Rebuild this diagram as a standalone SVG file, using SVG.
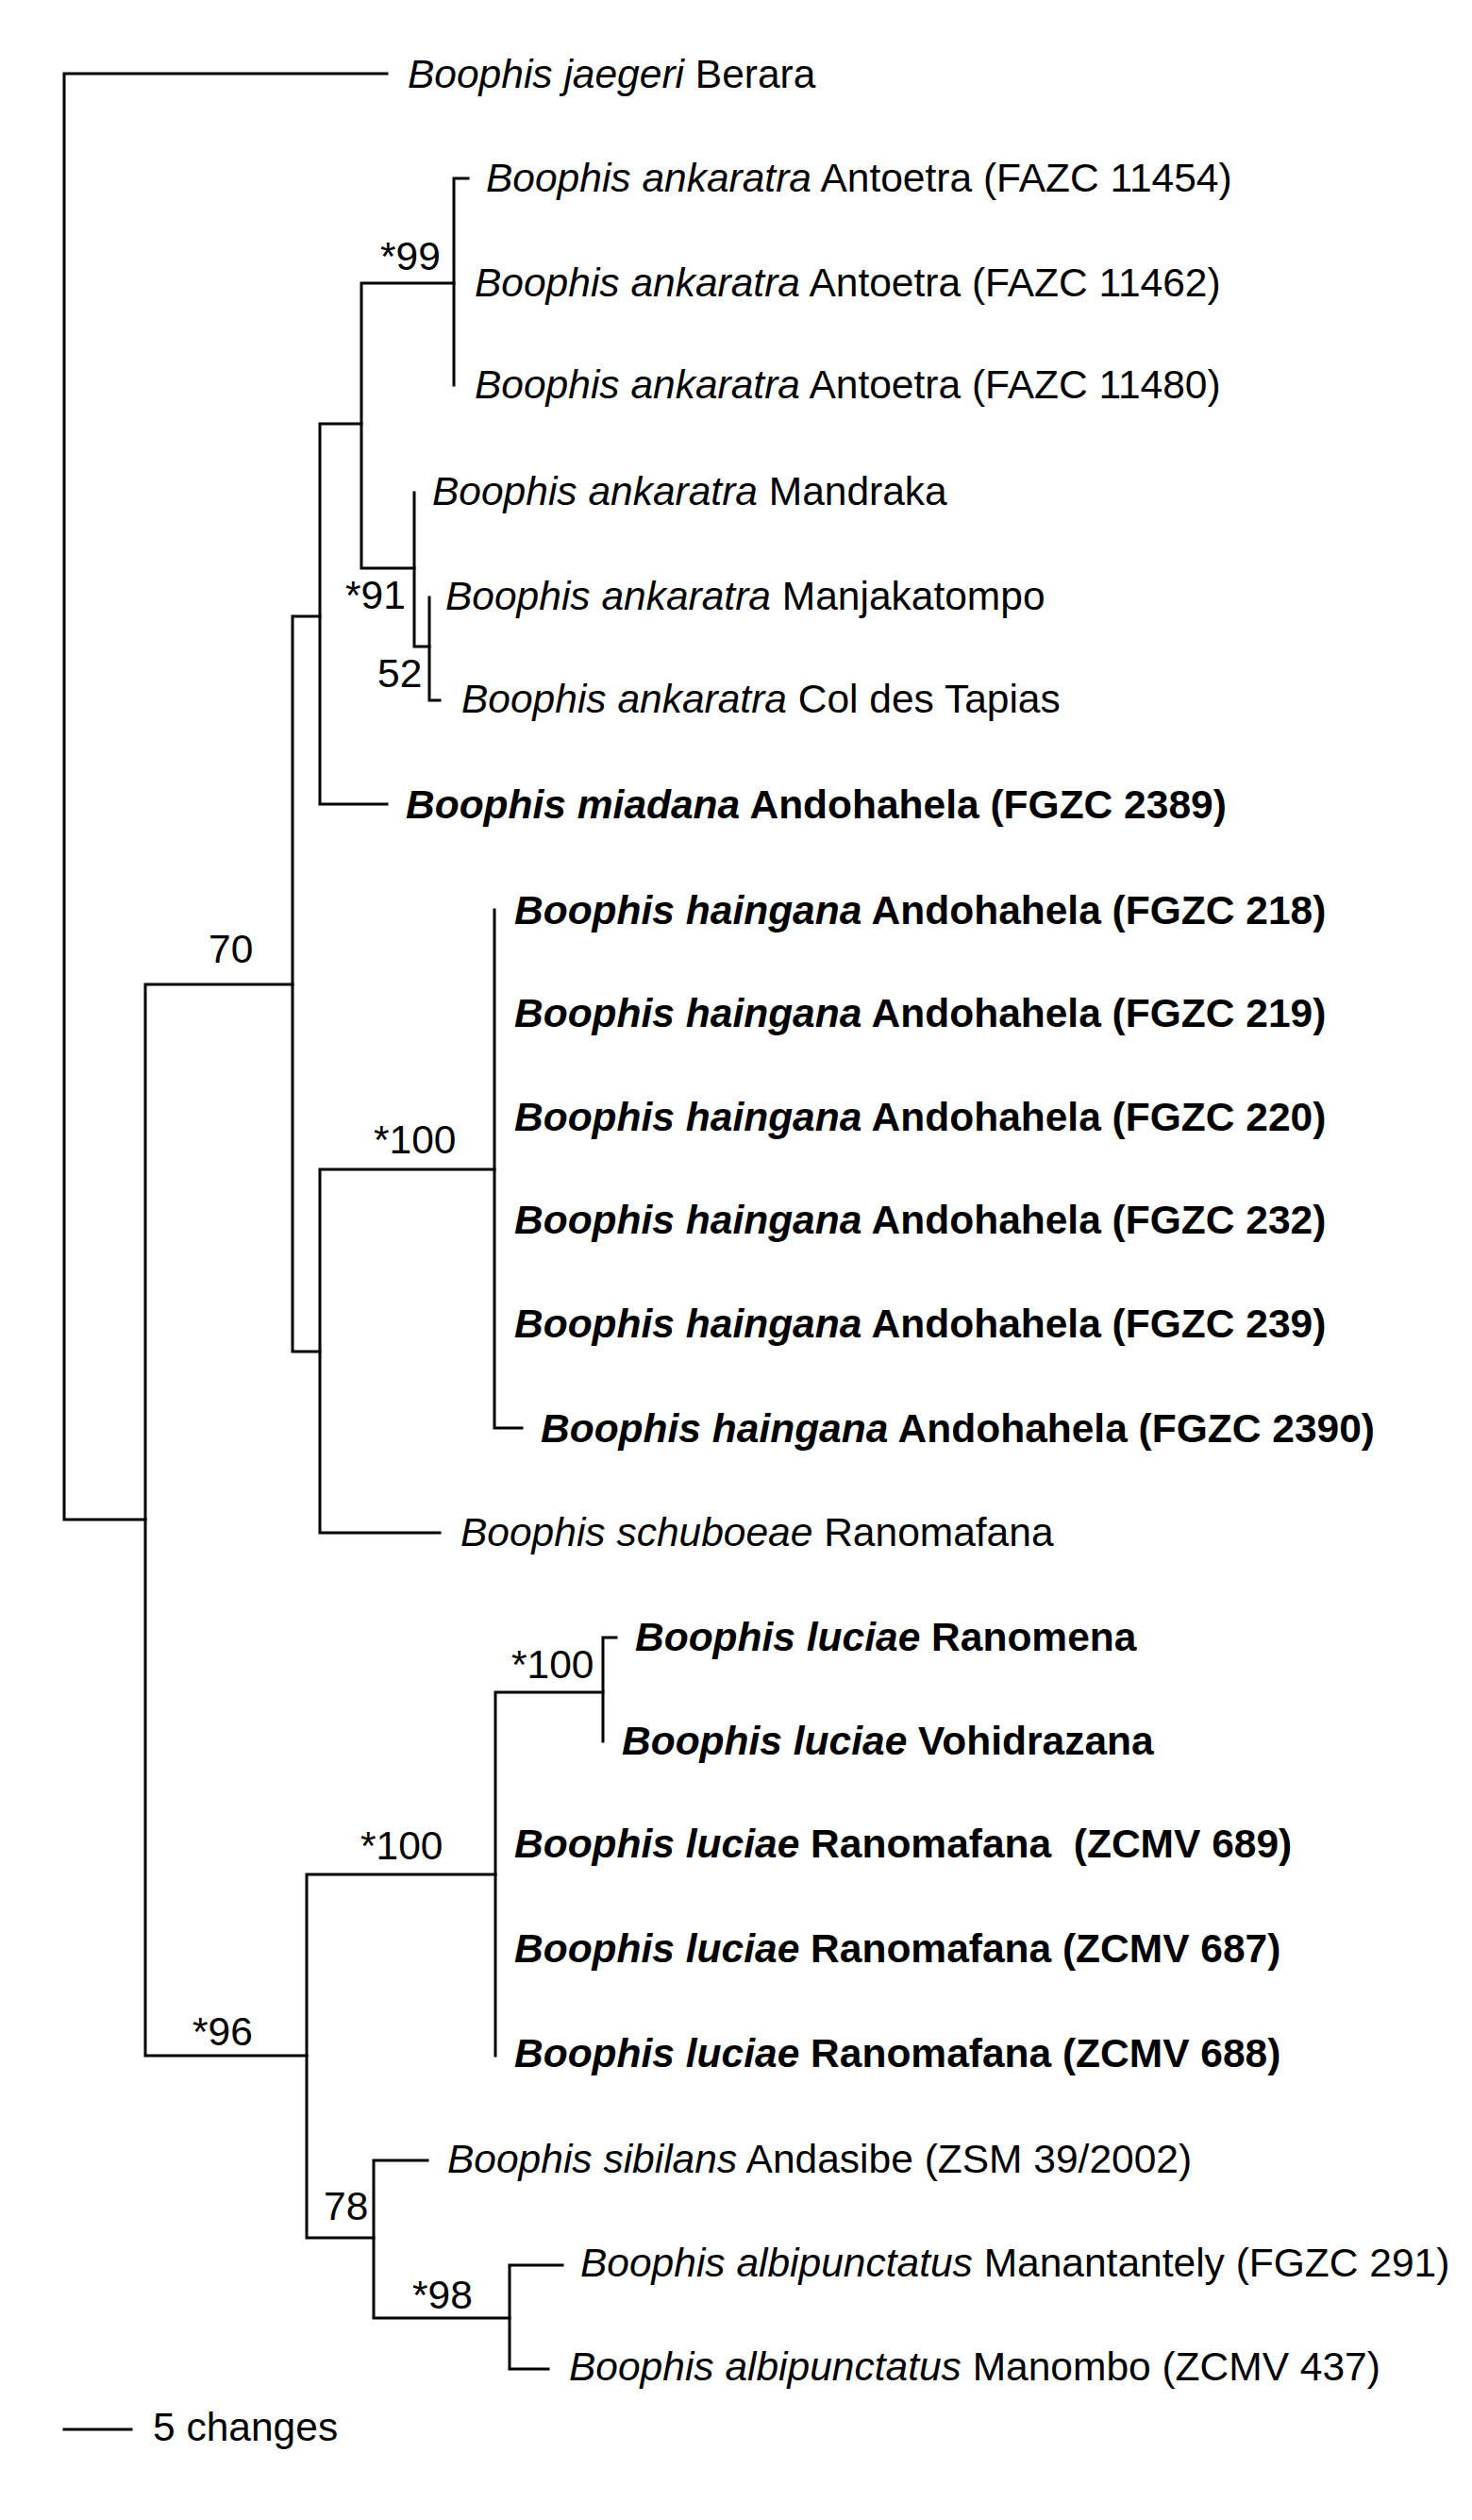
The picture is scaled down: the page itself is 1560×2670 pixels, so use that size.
<svg xmlns="http://www.w3.org/2000/svg" width="1560" height="2670" viewBox="0 0 1560 2670">
<style>
text{font-family:"Liberation Sans",Arial,sans-serif;font-size:42.5px;fill:#000}
.i{font-style:italic}
.b{font-weight:bold}
.br{fill:none;stroke:#000;stroke-width:3;stroke-linecap:square}
</style>
<rect width="1560" height="2670" fill="#fff"/>
<g id="connectors" class="br">
<path d="M68,78 V1610 M68,78 H410 M68,1610 H154"/>
<path d="M154,1043 V2178 M154,1043 H310 M154,2178 H325"/>
<path d="M310,653 V1432 M310,653 H339 M310,1432 H339"/>
<path d="M339,449 V852 M339,449 H383 M339,852 H410"/>
<path d="M383,300 V602 M383,300 H481 M383,602 H439"/>
<path d="M481,189 V408 M481,189 H496"/>
<path d="M439,522 V685 M439,685 H455"/>
<path d="M455,633 V742 M455,742 H466"/>
<path d="M339,1239 V1624 M339,1239 H524 M339,1624 H466"/>
<path d="M524,964 V1513 M524,1513 H553"/>
<path d="M325,1986 V2371 M325,1986 H525 M325,2371 H396"/>
<path d="M525,1793 V2178 M525,1793 H639"/>
<path d="M639,1735 V1845 M639,1735 H653"/>
<path d="M396,2289 V2456 M396,2289 H453 M396,2456 H540"/>
<path d="M540,2400 V2510 M540,2400 H596 M540,2510 H581"/>
<path d="M68,2574 H139"/>
</g>
<g id="labels">
<text x="403" y="286">*99</text>
<text x="366" y="645">*91</text>
<text x="400" y="728">52</text>
<text x="221" y="1020">70</text>
<text x="396" y="1222">*100</text>
<text x="542" y="1778">*100</text>
<text x="382" y="1970">*100</text>
<text x="204" y="2167">*96</text>
<text x="343" y="2352">78</text>
<text x="437" y="2446">*98</text>
</g>
<g id="t1"><text x="432" y="93"><tspan class="i">Boophis jaegeri</tspan> Berara</text></g>
<g id="t2"><text x="515" y="203"><tspan class="i">Boophis ankaratra</tspan> Antoetra (FAZC 11454)</text></g>
<g id="t3"><text x="503" y="314"><tspan class="i">Boophis ankaratra</tspan> Antoetra (FAZC 11462)</text></g>
<g id="t4"><text x="503" y="422"><tspan class="i">Boophis ankaratra</tspan> Antoetra (FAZC 11480)</text></g>
<g id="t5"><text x="458" y="535"><tspan class="i">Boophis ankaratra</tspan> Mandraka</text></g>
<g id="t6"><text x="472" y="646"><tspan class="i">Boophis ankaratra</tspan> Manjakatompo</text></g>
<g id="t7"><text x="489" y="755"><tspan class="i">Boophis ankaratra</tspan> Col des Tapias</text></g>
<g id="t8"><text class="b" x="430" y="867"><tspan class="i">Boophis miadana</tspan> Andohahela (FGZC 2389)</text></g>
<g id="t9"><text class="b" x="545" y="979"><tspan class="i">Boophis haingana</tspan> Andohahela (FGZC 218)</text></g>
<g id="t10"><text class="b" x="545" y="1088"><tspan class="i">Boophis haingana</tspan> Andohahela (FGZC 219)</text></g>
<g id="t11"><text class="b" x="545" y="1198"><tspan class="i">Boophis haingana</tspan> Andohahela (FGZC 220)</text></g>
<g id="t12"><text class="b" x="545" y="1307"><tspan class="i">Boophis haingana</tspan> Andohahela (FGZC 232)</text></g>
<g id="t13"><text class="b" x="545" y="1417"><tspan class="i">Boophis haingana</tspan> Andohahela (FGZC 239)</text></g>
<g id="t14"><text class="b" x="573" y="1528"><tspan class="i">Boophis haingana</tspan> Andohahela (FGZC 2390)</text></g>
<g id="t15"><text x="488" y="1638"><tspan class="i">Boophis schuboeae</tspan> Ranomafana</text></g>
<g id="t16"><text class="b" x="673" y="1749"><tspan class="i">Boophis luciae</tspan> Ranomena</text></g>
<g id="t17"><text class="b" x="659" y="1859"><tspan class="i">Boophis luciae</tspan> Vohidrazana</text></g>
<g id="t18"><text class="b" x="545" y="1968"><tspan class="i">Boophis luciae</tspan> Ranomafana&#160; (ZCMV 689)</text></g>
<g id="t19"><text class="b" x="545" y="2079"><tspan class="i">Boophis luciae</tspan> Ranomafana (ZCMV 687)</text></g>
<g id="t20"><text class="b" x="545" y="2190"><tspan class="i">Boophis luciae</tspan> Ranomafana (ZCMV 688)</text></g>
<g id="t21"><text x="474" y="2302"><tspan class="i">Boophis sibilans</tspan> Andasibe (ZSM 39/2002)</text></g>
<g id="t22"><text x="615" y="2412"><tspan class="i">Boophis albipunctatus</tspan> Manantantely (FGZC 291)</text></g>
<g id="t23"><text x="603" y="2522"><tspan class="i">Boophis albipunctatus</tspan> Manombo (ZCMV 437)</text></g>
<g id="scale"><text x="162" y="2586">5 changes</text></g>
</svg>
